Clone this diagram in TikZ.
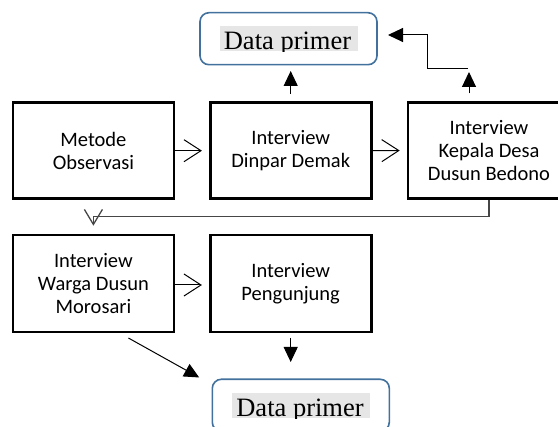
\documentclass[tikz,border=0pt]{standalone}
\usepackage{fontspec}
\setmainfont{Carlito}
\newfontfamily\serifdp{Liberation Serif}
\usetikzlibrary{arrows.meta}
\definecolor{dpblue}{RGB}{65,113,156}
\definecolor{hlgray}{RGB}{230,230,230}
\definecolor{fbgray}{RGB}{70,70,70}
\begin{document}
\begin{tikzpicture}[x=1pt,y=-1pt,
  procbox/.style={draw=black, line width=2.6pt, minimum width=161pt, minimum height=96pt,
    inner sep=0pt, align=center, font=\fontsize{20.5}{23}\selectfont},
  databox/.style={draw=dpblue, line width=1.6pt, rounded corners=9pt,
    minimum width=177pt, minimum height=52pt, inner sep=0pt},
  hlbox/.style={fill=hlgray, inner sep=0pt, minimum width=138pt, minimum height=25.5pt},
  dptext/.style={font=\serifdp\fontsize{26.5}{30}\selectfont, inner sep=0pt, anchor=base},
  openarr/.style={line width=1pt, -{Straight Barb[length=17pt,width=22pt]}},
  fbarr/.style={draw=fbgray, line width=1.3pt, -{Straight Barb[length=15pt,width=18pt]}},
  fillarr/.style={line width=1pt, -{Triangle[length=15pt,width=14pt]}}
]
\clip (0,0) rectangle (558,427);
\fill[white] (0,0) rectangle (558,427);

% process boxes
\node[procbox] (box1) at (93.4,150.7) {Metode\\Observasi};
\node[procbox] (box2) at (290.7,150.7) {Interview\\Dinpar Demak};
\node[procbox, minimum width=162pt] (box3) at (489,150.5) {Interview\\Kepala Desa\\Dusun Bedono};
\node[procbox, minimum height=97pt] (box4) at (93.4,283.5) {Interview\\Warga Dusun\\Morosari};
\node[procbox, minimum height=97pt] (box5) at (290.7,283.5) {Interview\\Pengunjung};

% data primer boxes
\node[databox] (dp1) at (288.5,38.7) {};
\node[hlbox] (dp1h) at (289,38.5) {};
\begin{scope}
  \clip (dp1h.north west) rectangle (dp1h.south east);
  \node[dptext] (dp1t) at (287.5,50) {Data primer};
\end{scope}
\node[databox] (dp2) at (300.8,405.3) {};
\node[hlbox] (dp2h) at (300.8,405.5) {};
\begin{scope}
  \clip (dp2h.north west) rectangle (dp2h.south east);
  \node[dptext] (dp2t) at (300,416.5) {Data primer};
\end{scope}

% horizontal open arrows
\draw[openarr, shorten >=7pt] (box1.east) -- (box2.west);
\draw[openarr, shorten >=7pt] (box2.east) -- (box3.west);
\draw[openarr, shorten >=7pt] ([yshift=-1.5pt]box4.east) -- ([yshift=-1.5pt]box5.west);

% feedback line
\coordinate (fb) at (93.4,216.7);
\draw[fbarr, shorten >=8pt] (box3.south) |- (fb) -- (box4.north);

% upward arrows
\draw[fillarr, shorten <=7.7pt, shorten >=5.5pt] (box2.north) -- (box2.north |- dp1.south);
\coordinate (kup) at (469,72);
\draw[fillarr] ([xshift=-20pt,yshift=7.7pt]box3.north) -- (kup);
\coordinate (p0) at (468,68.3);
\coordinate (dpin) at (388,35);
\draw[fillarr] (p0) -- (427,68.3) -- (427,35) -- (dpin);

% downward arrows
\draw[fillarr, shorten <=4.5pt, shorten >=16.5pt] (box5.south) -- (box5.south |- dp2.north);
\draw[fillarr] ([xshift=35pt,yshift=-4.7pt]box4.south) -- ([xshift=-12.3pt,yshift=1pt]dp2.north west);
\end{tikzpicture}
\end{document}
